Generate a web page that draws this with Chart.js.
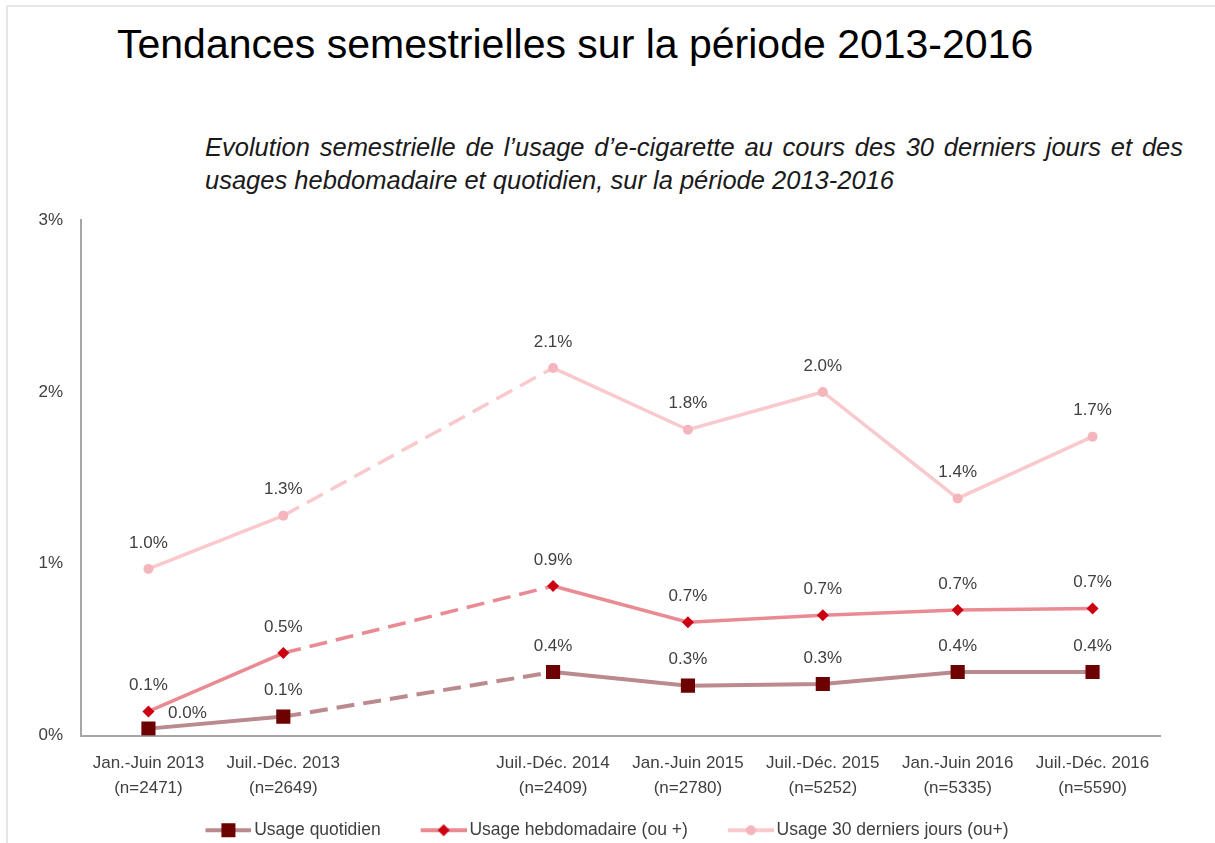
<!DOCTYPE html>
<html lang="fr">
<head>
<meta charset="utf-8">
<script src="https://cdn.jsdelivr.net/npm/chart.js@4.4.1/dist/chart.umd.min.js"></script>
<style>
html, body { margin: 0; padding: 0; background: #fff; }
body { width: 1215px; height: 843px; position: relative; overflow: hidden; font-family: "Liberation Sans", Arial, sans-serif; }
.frame { position: absolute; left: 6px; top: 5px; right: 0; bottom: 0; border-top: 2px solid #e6e6e6; border-left: 2px solid #e6e6e6; }
h1 { position: absolute; left: 117px; top: 24px; margin: 0; font-weight: normal; font-size: 41px; line-height: 41px; color: #000; white-space: nowrap; }
.sub { position: absolute; left: 205px; top: 131px; width: 978px; font-style: italic; font-size: 25.5px; line-height: 33px; color: #1a1a1a; }
.sub .l1 { text-align: justify; text-align-last: justify; white-space: nowrap; }
.sub .l2 { white-space: nowrap; }
#wrap { position: absolute; left: 0; top: 200px; width: 1215px; height: 649px; }
</style>
</head>
<body>
<div class="frame"></div>
<h1>Tendances semestrielles sur la période 2013-2016</h1>
<div class="sub">
  <div class="l1">Evolution semestrielle de l’usage d’e-cigarette au cours des 30 derniers jours et des</div>
  <div class="l2">usages hebdomadaire et quotidien, sur la période 2013-2016</div>
</div>
<div id="wrap"><canvas id="chart"></canvas></div>
<script>
// semestres (le 1er semestre 2014 n'a pas de mesure)
const categories = ['Jan.-Juin 2013', 'Juil.-Déc. 2013', '', 'Juil.-Déc. 2014', 'Jan.-Juin 2015', 'Juil.-Déc. 2015', 'Jan.-Juin 2016', 'Juil.-Déc. 2016'];
const sampleSizes = ['(n=2471)', '(n=2649)', '', '(n=2409)', '(n=2780)', '(n=5252)', '(n=5335)', '(n=5590)'];

// valeurs en %
const quotidien = [0.04, 0.11, null, 0.37, 0.29, 0.30, 0.37, 0.37];
const hebdomadaire = [0.14, 0.48, null, 0.87, 0.66, 0.70, 0.73, 0.74];
const trenteJours = [0.97, 1.28, null, 2.14, 1.78, 2.00, 1.38, 1.74];

const yTicks = [0, 1, 2, 3];

const FONT = '"Liberation Sans", Arial, sans-serif';
const TEXT = '#404040';

// segment qui enjambe le semestre manquant -> pointillés
const dashGap = c => {
  const d = c.chart.data.datasets[c.datasetIndex].data;
  return d[c.p0DataIndex] == null || d[c.p1DataIndex] == null ? [18, 9] : undefined;
};

// icône ligne + marqueur de la légende (calée à droite de la case, près du texte)
const BOX_W = 70;
function legendIcon(lineColor, markerColor, shape) {
  const c = document.createElement('canvas');
  c.width = BOX_W + 12; c.height = 16;
  const g = c.getContext('2d');
  const x0 = BOX_W - 34, mid = x0 + 23;
  g.strokeStyle = lineColor;
  g.lineWidth = 4;
  g.beginPath(); g.moveTo(x0, 8); g.lineTo(x0 + 46, 8); g.stroke();
  g.fillStyle = markerColor;
  if (shape === 'rect') {
    g.fillRect(mid - 7, 1, 14, 14);
  } else if (shape === 'rectRot') {
    g.beginPath(); g.moveTo(mid, 2); g.lineTo(mid + 6, 8); g.lineTo(mid, 14); g.lineTo(mid - 6, 8); g.closePath(); g.fill();
  } else {
    g.beginPath(); g.arc(mid, 8, 5, 0, Math.PI * 2); g.fill();
  }
  return c;
}

const icons = [
  legendIcon('#bb8a8e', '#6d0000', 'rect'),
  legendIcon('#ea8a92', '#cc0010', 'rectRot'),
  legendIcon('#f9c9cd', '#f5b5bc', 'circle')
];

// étiquettes de valeur au-dessus des points
const valueLabels = {
  id: 'valueLabels',
  afterDatasetsDraw(chart) {
    const ctx = chart.ctx;
    ctx.save();
    ctx.font = '17px ' + FONT;
    ctx.fillStyle = TEXT;
    ctx.textAlign = 'center';
    ctx.textBaseline = 'middle';
    chart.data.datasets.forEach((ds, di) => {
      const meta = chart.getDatasetMeta(di);
      meta.data.forEach((pt, i) => {
        const v = ds.data[i];
        if (v == null) return;
        let dx = 0, dy = -26;
        // premier point quotidien : étiquette décalée à droite (chevauche l'hebdo)
        if (di === 0 && i === 0) { dx = 39; dy = -15; }
        ctx.fillText(v.toFixed(1) + '%', pt.x + dx, pt.y + dy);
      });
    });
    ctx.restore();
  }
};

new Chart(document.getElementById('chart'), {
  type: 'line',
  data: {
    labels: categories.map((c, i) => (c ? [c, sampleSizes[i]] : '')),
    datasets: [
      {
        label: 'Usage quotidien',
        data: quotidien,
        borderColor: '#bb8a8e',
        borderWidth: 4,
        pointStyle: 'rect',
        pointRadius: 10,
        pointHoverRadius: 10,
        pointBackgroundColor: '#6d0000',
        pointBorderWidth: 0,
        spanGaps: true,
        segment: { borderDash: dashGap }
      },
      {
        label: 'Usage hebdomadaire (ou +)',
        data: hebdomadaire,
        borderColor: '#ea8a92',
        borderWidth: 3.5,
        pointStyle: 'rectRot',
        pointRadius: 6,
        pointHoverRadius: 6,
        pointBackgroundColor: '#cc0010',
        pointBorderWidth: 0,
        spanGaps: true,
        segment: { borderDash: dashGap }
      },
      {
        label: 'Usage 30 derniers jours (ou+)',
        data: trenteJours,
        borderColor: '#f9c9cd',
        borderWidth: 3.5,
        pointStyle: 'circle',
        pointRadius: 5,
        pointHoverRadius: 5,
        pointBackgroundColor: '#f5b5bc',
        pointBorderWidth: 0,
        spanGaps: true,
        segment: { borderDash: dashGap }
      }
    ]
  },
  options: {
    responsive: true,
    maintainAspectRatio: false,
    animation: false,
    layout: { padding: { top: 11, right: 55, left: 24, bottom: 0 } },
    scales: {
      x: {
        offset: true,
        grid: { display: false },
        border: { display: true, color: '#a6a6a6', width: 2 },
        afterFit: s => { s.height = 76; },
        ticks: {
          color: TEXT,
          font: { family: FONT, size: 17, lineHeight: 1.47 },
          padding: 7,
          maxRotation: 0,
          autoSkip: false
        }
      },
      y: {
        min: 0,
        max: 3,
        afterBuildTicks: s => { s.ticks = yTicks.map(v => ({ value: v })); },
        afterFit: s => { s.width = 57; },
        grid: { display: false },
        border: { display: true, color: '#a6a6a6', width: 2 },
        ticks: {
          color: TEXT,
          font: { family: FONT, size: 17 },
          padding: 10,
          callback: v => v + '%'
        }
      }
    },
    plugins: {
      legend: {
        position: 'bottom',
        labels: {
          color: TEXT,
          font: { family: FONT, size: 17.5 },
          usePointStyle: true,
          pointStyleWidth: BOX_W,
          padding: 10,
          generateLabels: chart =>
            Chart.defaults.plugins.legend.labels.generateLabels(chart).map((item, i) => ({ ...item, pointStyle: icons[i] }))
        }
      },
      tooltip: { enabled: false }
    }
  },
  plugins: [valueLabels]
});
</script>
</body>
</html>
